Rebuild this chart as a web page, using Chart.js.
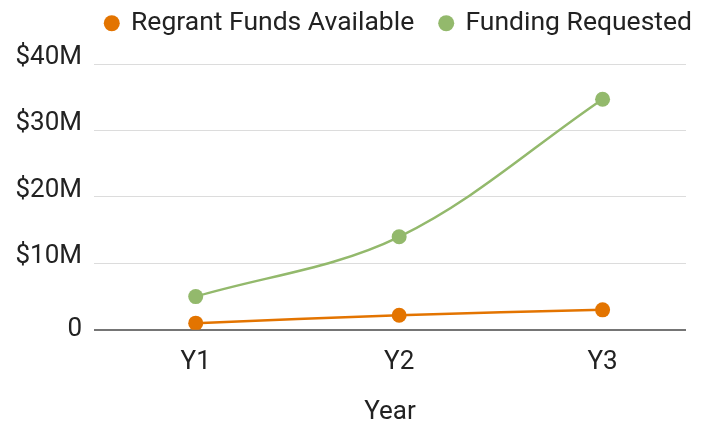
<!DOCTYPE html>
<html>
<head>
<meta charset="utf-8">
<script src="https://cdn.jsdelivr.net/npm/chart.js@4"></script>
<style>
  html, body { margin: 0; padding: 0; background: #fff; }
  #wrap { width: 704px; height: 422px; }
</style>
</head>
<body>
<div id="wrap"><canvas id="lineChart" width="704" height="422"></canvas></div>
<script>
// Chart data
const years = ['Y1', 'Y2', 'Y3'];
const regrantFunds = [1.0, 2.2, 3.0];        // $M
const fundingRequested = [5.0, 14.0, 34.7];  // $M
const yTicks = [0, 10, 20, 30, 40];

// Points placed at category positions 1..n on a numeric x axis
function toPoints(values) {
    return values.map((v, i) => ({ x: i + 1, y: v }));
}

const ORANGE = '#e37400';
const GREEN = '#93b96c';
const FONT_SIZE = 26;

Chart.defaults.font.family = 'Roboto, "Noto Sans", sans-serif';
Chart.defaults.color = '#222';

// Fixed legend block height, and nudge the drawn legend to where the reference has it
const legendPlacement = {
    id: 'legendPlacement',
    beforeInit(chart) {
        const legend = chart.legend;
        const origFit = legend.fit;
        const origDraw = legend.draw;
        legend.fit = function () {
            origFit.call(legend);
            this.height = 64;
        };
        legend.draw = function () {
            const c = chart.ctx;
            c.save();
            c.translate(32, -16);
            origDraw.call(legend);
            c.restore();
        };
    }
};

const ctx = document.getElementById('lineChart').getContext('2d');
new Chart(ctx, {
    type: 'line',
    data: {
        datasets: [{
            label: 'Regrant Funds Available',
            data: toPoints(regrantFunds),
            borderColor: ORANGE,
            backgroundColor: ORANGE,
            borderWidth: 2.5,
            pointRadius: 7.5,
            pointBorderWidth: 0,
            tension: 0.35
        }, {
            label: 'Funding Requested',
            data: toPoints(fundingRequested),
            borderColor: GREEN,
            backgroundColor: GREEN,
            borderWidth: 2.5,
            pointRadius: 7.5,
            pointBorderWidth: 0,
            tension: 0.35
        }]
    },
    plugins: [legendPlacement],
    options: {
        responsive: false,
        animation: false,
        layout: { padding: { left: 0, right: 18, top: 0, bottom: 0 } },
        plugins: {
            tooltip: { enabled: false },
            legend: {
                align: 'end',
                labels: {
                    usePointStyle: true,
                    pointStyle: 'circle',
                    boxWidth: 12,
                    boxHeight: 11.3,
                    padding: 26,
                    font: { size: 26.5 },
                    color: '#222'
                }
            }
        },
        scales: {
            x: {
                type: 'linear',
                min: 0.5,
                max: 3.41,
                afterBuildTicks: (scale) => {
                    scale.ticks = years.map((_, i) => ({ value: i + 1 }));
                },
                ticks: {
                    font: { size: FONT_SIZE },
                    color: '#222',
                    padding: 17,
                    maxRotation: 0,
                    callback: (value) => years[value - 1]
                },
                grid: { display: false, drawTicks: false },
                border: { display: false },
                title: {
                    display: true,
                    text: 'Year',
                    font: { size: FONT_SIZE, lineHeight: 1 },
                    color: '#222',
                    padding: { top: 4, bottom: -3 }
                }
            },
            y: {
                min: 0,
                max: 40,
                afterBuildTicks: (scale) => {
                    scale.ticks = yTicks.map(v => ({ value: v }));
                },
                afterFit: (scale) => { scale.width = 94; },
                ticks: {
                    font: { size: FONT_SIZE, lineHeight: 0.5 },
                    color: '#222',
                    padding: 12,
                    // dollar labels sit just above their gridline (empty 2nd line lifts them)
                    callback: (value) => value === 0 ? '0' : ['$' + value + 'M', '']
                },
                grid: {
                    drawTicks: false,
                    color: (c) => c.tick && c.tick.value === 0 ? '#757575' : '#dcdcdc',
                    lineWidth: (c) => c.tick && c.tick.value === 0 ? 2 : 1
                },
                border: { display: false }
            }
        }
    }
});
</script>
</body>
</html>
